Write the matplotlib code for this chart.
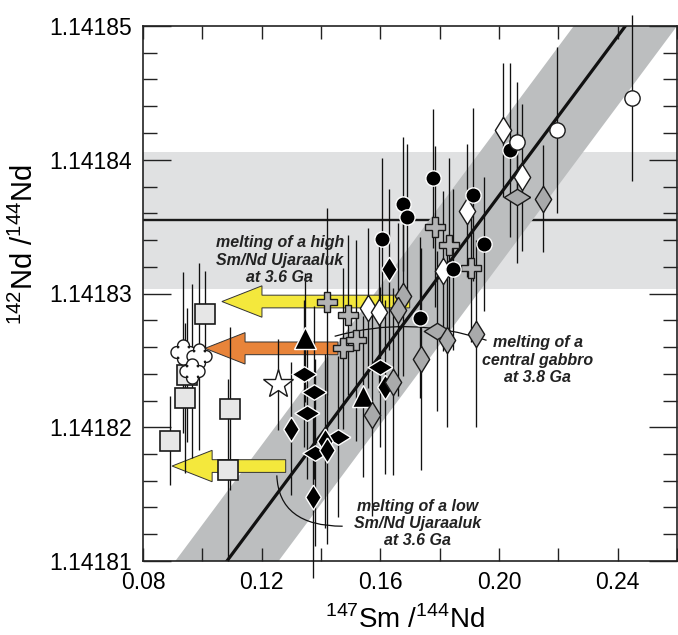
import numpy as np
import matplotlib
matplotlib.use("Agg")
import matplotlib.pyplot as plt
from matplotlib.path import Path
from matplotlib.patches import FancyArrow, PathPatch
from matplotlib.ticker import FixedLocator, FormatStrFormatter

plt.rcParams['font.family'] = ['Liberation Sans', 'DejaVu Sans']
plt.rcParams['mathtext.fontset'] = 'custom'
plt.rcParams['mathtext.rm'] = 'Liberation Sans'

# --- datos ---
x_ticks = [0.08, 0.12, 0.16, 0.20, 0.24]
y_ticks = [1.14181, 1.14182, 1.14183, 1.14184, 1.14185]

# banda horizontal (valor moderno) y linea central
ref_band = [1.1418303, 1.1418406]
ref_line = 1.1418355

# isocrona y su incertidumbre (en x)
fit_x = [0.1083, 0.2426]
fit_y = [1.14181, 1.14185]
fit_dx = 0.0174

sq_x = [0.1009, 0.0948, 0.0941, 0.0891, 0.1093, 0.1086]
sq_y = [1.1418285, 1.1418239, 1.1418222, 1.1418190, 1.1418214, 1.1418168]
sq_e = [3.2e-6, 5.0e-6, 5.6e-6, 3.3e-6, 6.1e-6, 6.8e-6]

wc_x = [0.0935, 0.0989, 0.0965]
wc_y = [1.1418256, 1.1418253, 1.1418242]
wc_e = [6.0e-6, 7.0e-6, 6.5e-6]

star_x = [0.1255]
star_y = [1.1418232]
star_e = [3.4e-6]

tri_x = [0.1345, 0.1541]
tri_y = [1.1418267, 1.1418223]
tri_e = [4.8e-6, 6.0e-6]

bdw_x = [0.1342, 0.1376, 0.1352, 0.1457, 0.1379, 0.1598]
bdw_y = [1.1418240, 1.1418226, 1.1418211, 1.1418193, 1.1418181, 1.1418245]
bdw_e = [5.5e-6, 6.5e-6, 5.0e-6, 6.0e-6, 7.0e-6, 6.0e-6]

bdt_x = [0.1298, 0.1413, 0.1420, 0.1372, 0.1615, 0.1628]
bdt_y = [1.1418199, 1.1418190, 1.1418183, 1.1418148, 1.1418230, 1.1418318]
bdt_e = [5.0e-6, 6.5e-6, 7.0e-6, 6.1e-6, 6.5e-6, 6.0e-6]

bc_x = [0.1776, 0.1675, 0.1689, 0.1605, 0.1914, 0.1948, 0.1844, 0.2036, 0.1733]
bc_y = [1.1418386, 1.1418367, 1.1418357, 1.1418341, 1.1418374, 1.1418337, 1.1418318, 1.1418407, 1.1418282]
bc_e = [5.2e-6, 5.0e-6, 5.5e-6, 6.0e-6, 6.5e-6, 5.0e-6, 6.0e-6, 6.5e-6, 6.0e-6]

wci_x = [0.2447, 0.2194, 0.2059]
wci_y = [1.1418446, 1.1418422, 1.1418413]
wci_e = [6.2e-6, 6.2e-6, 4.5e-6]

wd_x = [0.2012, 0.2076, 0.1891, 0.1810, 0.1558, 0.1595]
wd_y = [1.1418422, 1.1418387, 1.1418362, 1.1418317, 1.1418289, 1.1418286]
wd_e = [5.0e-6, 5.5e-6, 5.0e-6, 6.0e-6, 6.0e-6, 6.0e-6]

gc_x = [0.1783, 0.1830, 0.1904, 0.1420, 0.1490, 0.1517, 0.1473]
gc_y = [1.1418350, 1.1418336, 1.1418319, 1.1418294, 1.1418284, 1.1418265, 1.1418259]
gc_e = [6.0e-6, 6.5e-6, 5.5e-6, 7.0e-6, 6.0e-6, 7.5e-6, 6.0e-6]

gdw_x = [0.2059, 0.1790]
gdw_y = [1.1418372, 1.1418272]
gdw_e = [4.9e-6, 6.0e-6]

gdt_x = [0.2147, 0.1675, 0.1659, 0.1824, 0.1921, 0.1736, 0.1642, 0.1571]
gdt_y = [1.1418371, 1.1418298, 1.1418288, 1.1418265, 1.1418270, 1.1418251, 1.1418234, 1.1418209]
gdt_e = [4.0e-6, 6.0e-6, 6.5e-6, 6.5e-6, 7.0e-6, 8.3e-6, 7.0e-6, 7.5e-6]

# flechas: (x cola, x punta, y)
flechas = [
    (0.1699, 0.1066, 1.1418294, '#f4e83c'),
    (0.1457, 0.1009, 1.1418259, '#e8843a'),
    (0.1281, 0.0898, 1.1418171, '#f4e83c'),
]

textos = [
    (0.1261, 1.1418325, "melting of a high\nSm/Nd Ujaraaluk\nat 3.6 Ga"),
    (0.2130, 1.1418250, "melting of a\ncentral gabbro\nat 3.8 Ga"),
    (0.1726, 1.1418128, "melting of a low\nSm/Nd Ujaraaluk\nat 3.6 Ga"),
]

# --- figura ---
fig = plt.figure(figsize=(6.78, 6.35), dpi=100)
ax = fig.add_axes([143/678, 74/635, 534/678, 535/635])
ax.set_xlim(0.08, 0.26)
ax.set_ylim(1.14181, 1.14185)

ax.axhspan(ref_band[0], ref_band[1], color='#e0e1e2', lw=0, zorder=0)
ax.axhline(ref_line, color='#1a1a1a', lw=1.7, zorder=1)

pend = (fit_y[1] - fit_y[0]) / (fit_x[1] - fit_x[0])
xx = np.array([0.0, 0.4])
yy = fit_y[0] + pend * (xx - fit_x[0])
ax.fill_between(xx, yy - pend * fit_dx, yy + pend * fit_dx, color='#bcbebf', lw=0, zorder=1)
ax.plot(xx, yy, color='#111111', lw=2.3, zorder=2)

# lineas guia de los textos
def curva(p0, c, p1):
    path = Path([p0, c, p1], [Path.MOVETO, Path.CURVE3, Path.CURVE3])
    ax.add_patch(PathPatch(path, fc='none', ec='#111111', lw=0.9, zorder=2))

curva((0.1251, 1.1418164), (0.1258, 1.1418126), (0.1473, 1.1418126))
curva((0.1446, 1.1418268), (0.1699, 1.1418284), (0.1958, 1.1418265))

for x0, x1, y, c in flechas:
    ax.add_patch(FancyArrow(x0, y, x1 - x0, 0, width=0.95e-6, head_width=2.35e-6,
                            head_length=0.0135, length_includes_head=True,
                            fc=c, ec='#333333', lw=0.7, zorder=3))

grupos = [sq_x, sq_y, sq_e], [wc_x, wc_y, wc_e], [star_x, star_y, star_e], \
    [tri_x, tri_y, tri_e], [bdw_x, bdw_y, bdw_e], [bdt_x, bdt_y, bdt_e], \
    [bc_x, bc_y, bc_e], [wci_x, wci_y, wci_e], [wd_x, wd_y, wd_e], \
    [gc_x, gc_y, gc_e], [gdw_x, gdw_y, gdw_e], [gdt_x, gdt_y, gdt_e]
for gx, gy, ge in grupos:
    gy, ge = np.array(gy), np.array(ge)
    ax.vlines(gx, gy - ge, gy + ge, color='#111111', lw=0.95, zorder=4, clip_on=False)

alto = Path([(0, 1), (0.62, 0), (0, -1), (-0.62, 0), (0, 1)])
ancho = Path([(1, 0), (0, 0.62), (-1, 0), (0, -0.62), (1, 0)])

# cuadrifolio para las cruces blancas
pts = []
for cx, cy, a0 in [(0.5, 0, -90), (0, 0.5, 0), (-0.5, 0, 90), (0, -0.5, 180)]:
    t = np.radians(np.linspace(a0 - 20, a0 + 200, 30))
    pts += list(zip(cx + 0.45 * np.cos(t), cy + 0.45 * np.sin(t)))
pts.append(pts[0])
flor = Path(pts)

ax.plot(sq_x, sq_y, 's', ms=14, mfc='#e6e6e6', mec='#1a1a1a', mew=1.2, zorder=5)
ax.plot(wc_x, wc_y, ls='none', marker=flor, ms=18, mfc='white', mec='#1a1a1a', mew=1.0, zorder=5)
ax.plot(star_x, star_y, '*', ms=22, mfc='white', mec='#1a1a1a', mew=1.0, zorder=5)
ax.plot(tri_x, tri_y, '^', ms=16, mfc='black', mec='white', mew=1.0, zorder=5)
ax.plot(bdw_x, bdw_y, ls='none', marker=ancho, ms=18, mfc='black', mec='white', mew=1.0, zorder=5)
ax.plot(bdt_x, bdt_y, ls='none', marker=alto, ms=18, mfc='black', mec='white', mew=1.0, zorder=5)
ax.plot(gdw_x, gdw_y, ls='none', marker=ancho, ms=19, mfc='#a9aaab', mec='#1a1a1a', mew=1.0, zorder=5)
ax.plot(gdt_x, gdt_y, ls='none', marker=alto, ms=19, mfc='#a9aaab', mec='#1a1a1a', mew=1.0, zorder=5)
ax.plot(wd_x, wd_y, ls='none', marker=alto, ms=19, mfc='white', mec='#1a1a1a', mew=1.0, zorder=5)
ax.plot(gc_x, gc_y, 'P', ms=15, mfc='#b3b4b5', mec='#1a1a1a', mew=1.0, zorder=6)
ax.plot(bc_x, bc_y, 'o', ms=11, mfc='black', mec='white', mew=1.0, zorder=6)
ax.plot(wci_x, wci_y, 'o', ms=11, mfc='white', mec='#1a1a1a', mew=1.0, zorder=6)

for tx, ty, s in textos:
    ax.text(tx, ty, s, ha='center', va='center', fontsize=11.5, fontweight='bold',
            fontstyle='italic', color='#222222', linespacing=1.2, zorder=7)

# ejes
ax.xaxis.set_major_locator(FixedLocator(x_ticks))
ax.xaxis.set_minor_locator(FixedLocator([0.10, 0.14, 0.18, 0.22, 0.26]))
ax.xaxis.set_major_formatter(FormatStrFormatter('%.2f'))
ax.yaxis.set_major_locator(FixedLocator(y_ticks))
ax.yaxis.set_minor_locator(FixedLocator(np.linspace(1.14181, 1.14185, 21)))
ax.yaxis.set_major_formatter(FormatStrFormatter('%.5f'))
ax.tick_params(which='both', direction='in', top=True, right=True, width=1.0,
               color='#222222', labelsize=16.5)
ax.tick_params(axis='x', which='both', length=9.5, pad=7)
ax.tick_params(axis='y', which='major', length=20, pad=8)
ax.tick_params(axis='y', which='minor', length=10)
for sp in ax.spines.values():
    sp.set_linewidth(1.2)
    sp.set_color('#222222')

fig.text(405/678, 1 - 620/635, r'$^{147}$Sm /$^{144}$Nd', ha='center', va='center', fontsize=20)
fig.text(24/678, 1 - 245/635, r'$^{142}$Nd /$^{144}$Nd', ha='center', va='center',
         rotation=90, fontsize=21)

fig.savefig('out.png', dpi=100)
